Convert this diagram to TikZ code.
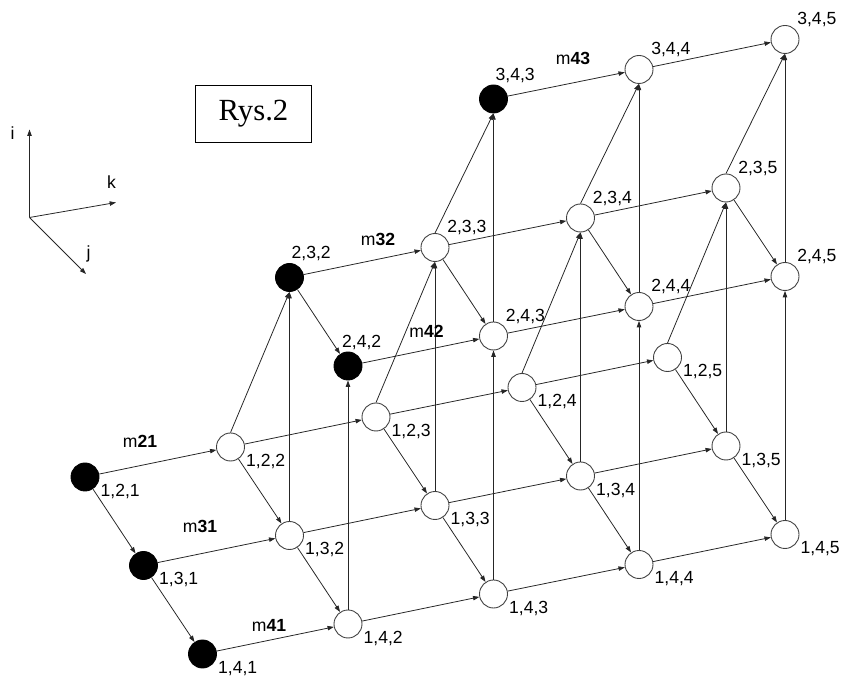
\documentclass[tikz,border=0pt]{standalone}
\usepackage{fontspec}
\setmainfont{Liberation Sans}
\newfontfamily\timesfont{Liberation Serif}
\usetikzlibrary{arrows.meta}

\begin{document}
\begin{tikzpicture}[
  st/.style={circle, draw=black!75, line width=0.5pt, fill=white, minimum size=0.56cm, inner sep=0pt},
  done/.style={st, draw=black, fill=black},
  arr/.style={-{Triangle[length=3.6pt, width=2.5pt]}, line width=0.45pt, black!85},
  lbl/.style={inner sep=1pt},
  low/.style={label={[lbl, anchor=north west]-20:#1}},
  up/.style={label={[lbl, anchor=south west]45:#1}},
  top/.style={label={[lbl, anchor=south west]90:#1}},
]
  \useasboundingbox (0,0) rectangle (17.06,13.58);

  % axes
  \coordinate (O) at (0.59,9.23);
  \coordinate (I) at (0.59,10.99);
  \coordinate (K) at (2.32,9.53);
  \coordinate (J) at (1.72,8.10);
  \draw[arr] (O) -- (I);
  \draw[arr] (O) -- (K);
  \draw[arr] (O) -- (J);
  \node at (0.25,10.91) {i};
  \node at (2.23,9.93) {k};
  \node at (1.77,8.51) {j};

  \node[draw, line width=0.7pt, minimum width=2.33cm, minimum height=1.15cm,
        font=\timesfont\fontsize{17.5}{20}\selectfont] (rys) at (5.07,11.30) {Rys.2};

  % layer i=1
  \node[done, low={1,2,1}] (n121) at (1.70,4.04) {};
  \node[st, low={1,2,2}] (n122) at (4.61,4.64) {};
  \node[st, low={1,2,3}] (n123) at (7.52,5.24) {};
  \node[st, low={1,2,4}] (n124) at (10.44,5.83) {};
  \node[st, low={1,2,5}] (n125) at (13.35,6.43) {};
  \node[done, low={1,3,1}] (n131) at (2.87,2.27) {};
  \node[st, low={1,3,2}] (n132) at (5.79,2.87) {};
  \node[st, low={1,3,3}] (n133) at (8.70,3.47) {};
  \node[st, low={1,3,4}] (n134) at (11.61,4.06) {};
  \node[st, low={1,3,5}] (n135) at (14.52,4.66) {};
  \node[done, low={1,4,1}] (n141) at (4.05,0.50) {};
  \node[st, low={1,4,2}] (n142) at (6.96,1.10) {};
  \node[st, low={1,4,3}] (n143) at (9.87,1.70) {};
  \node[st, low={1,4,4}] (n144) at (12.78,2.29) {};
  \node[st, low={1,4,5}] (n145) at (15.70,2.89) {};

  % layer i=2
  \node[done, top={2,3,2}] (n232) at (5.79,8.03) {};
  \node[st, up={2,3,3}] (n233) at (8.70,8.63) {};
  \node[st, up={2,3,4}] (n234) at (11.61,9.22) {};
  \node[st, up={2,3,5}] (n235) at (14.52,9.82) {};
  \node[done, label={[lbl, anchor=south west, xshift=-0.16cm]90:2,4,2}] (n242) at (6.96,6.26) {};
  \node[st, up={2,4,3}] (n243) at (9.87,6.86) {};
  \node[st, up={2,4,4}] (n244) at (12.78,7.45) {};
  \node[st, up={2,4,5}] (n245) at (15.70,8.05) {};

  % layer i=3
  \node[done, top={3,4,3}] (n343) at (9.87,11.60) {};
  \node[st, up={3,4,4}] (n344) at (12.78,12.19) {};
  \node[st, up={3,4,5}] (n345) at (15.70,12.79) {};

  % k direction
  \path[arr] (n121) edge (n122) (n122) edge (n123) (n123) edge (n124) (n124) edge (n125);
  \path[arr] (n131) edge (n132) (n132) edge (n133) (n133) edge (n134) (n134) edge (n135);
  \path[arr] (n141) edge (n142) (n142) edge (n143) (n143) edge (n144) (n144) edge (n145);
  \path[arr] (n232) edge (n233) (n233) edge (n234) (n234) edge (n235);
  \path[arr] (n242) edge (n243) (n243) edge (n244) (n244) edge (n245);
  \path[arr] (n343) edge (n344) (n344) edge (n345);

  % j direction
  \path[arr] (n121) edge (n131) (n131) edge (n141) (n122) edge (n132) (n132) edge (n142);
  \path[arr] (n123) edge (n133) (n133) edge (n143) (n124) edge (n134) (n134) edge (n144);
  \path[arr] (n125) edge (n135) (n135) edge (n145);
  \path[arr] (n232) edge (n242) (n233) edge (n243) (n234) edge (n244) (n235) edge (n245);

  % i direction
  \path[arr] (n122.north) edge (n232.south) (n132.north) edge (n232.south) (n142.north) edge (n242.south);
  \path[arr] (n123.north) edge (n233.south) (n133.north) edge (n233.south) (n143.north) edge (n243.south);
  \path[arr] (n124.north) edge (n234.south) (n134.north) edge (n234.south) (n144.north) edge (n244.south);
  \path[arr] (n125.north) edge (n235.south) (n135.north) edge (n235.south) (n145.north) edge (n245.south);
  \path[arr] (n233.north) edge (n343.south) (n243.north) edge (n343.south);
  \path[arr] (n234.north) edge (n344.south) (n244.north) edge (n344.south);
  \path[arr] (n235.north) edge (n345.south) (n245.north) edge (n345.south);

  \node at (2.80,4.76) {m\textbf{21}};
  \node at (4.00,3.06) {m\textbf{31}};
  \node at (5.38,1.08) {m\textbf{41}};
  \node at (7.56,8.79) {m\textbf{32}};
  \node at (8.53,6.96) {m\textbf{42}};
  \node at (11.46,12.41) {m\textbf{43}};
\end{tikzpicture}
\end{document}
